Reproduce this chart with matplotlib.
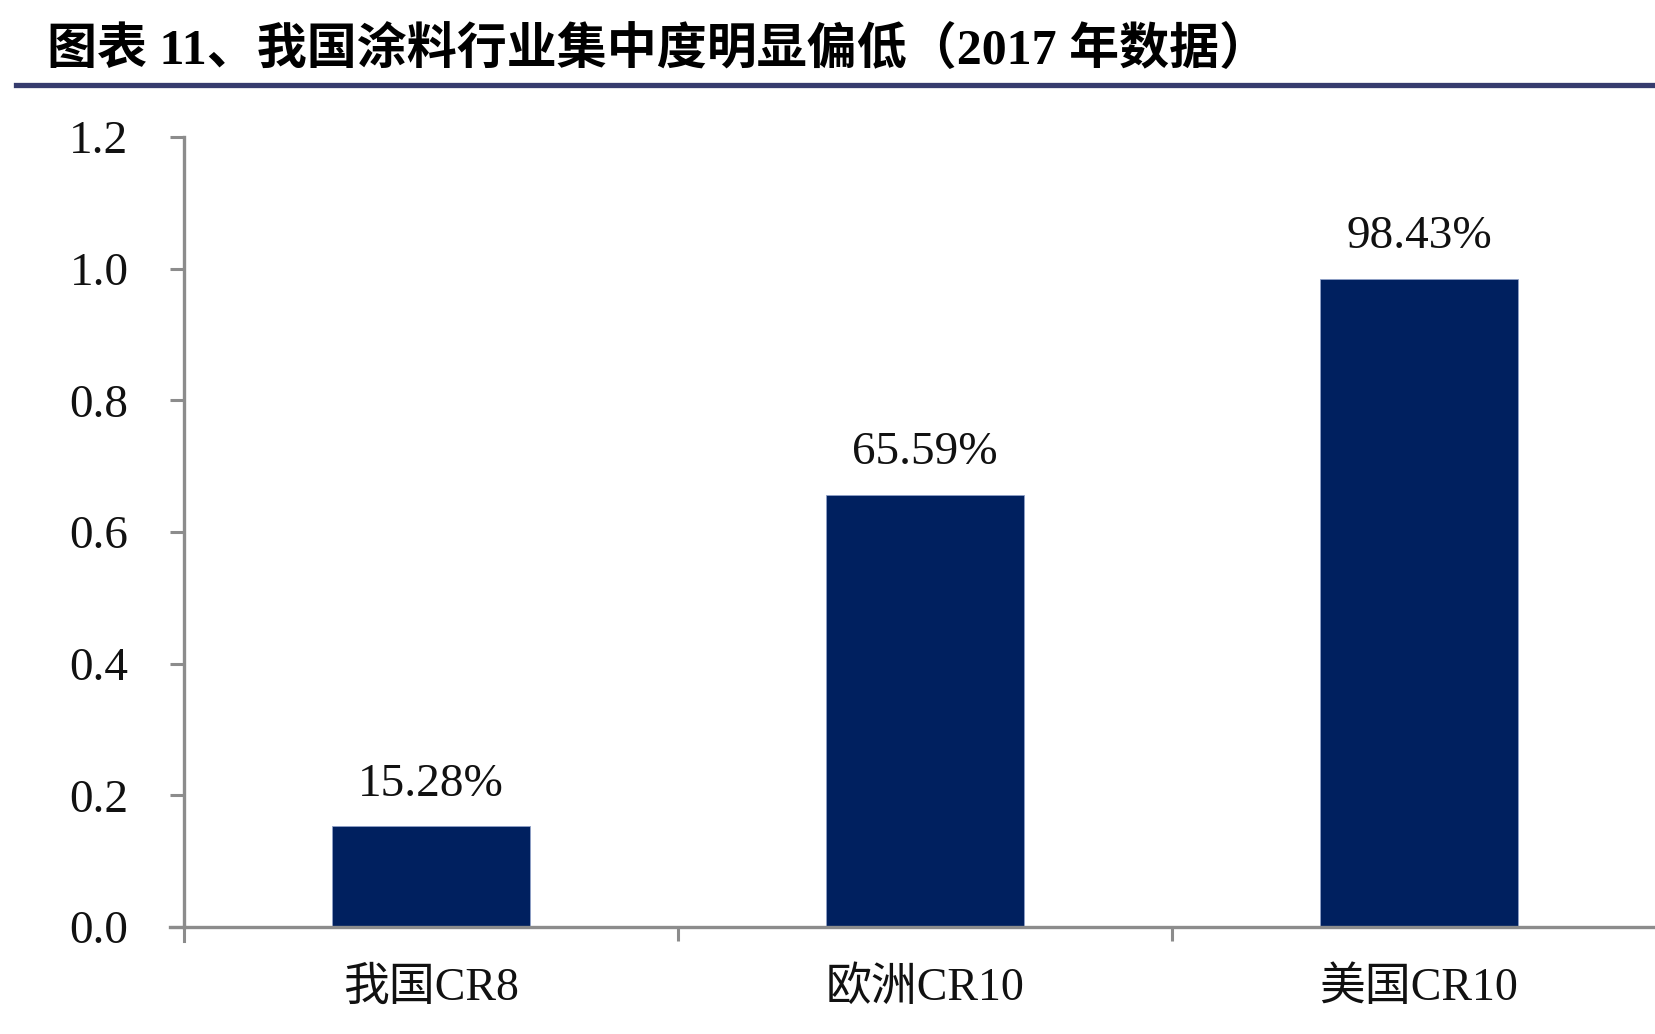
import matplotlib
matplotlib.use("Agg")
import matplotlib.pyplot as plt
from matplotlib.lines import Line2D

categories = ["我国CR8", "欧洲CR10", "美国CR10"]
values = [0.1528, 0.6559, 0.9843]
labels = ["15.28%", "65.59%", "98.43%"]
yticks = [0.0, 0.2, 0.4, 0.6, 0.8, 1.0, 1.2]
title = "图表 11、我国涂料行业集中度明显偏低（2017 年数据）"

FAM = ["Liberation Serif", "Noto Sans CJK SC", "DejaVu Sans"]
plt.rcParams["font.family"] = FAM

W, H = 1656, 1034
fig = plt.figure(figsize=(W / 100, H / 100), dpi=100)

ax = fig.add_axes([184 / W, 1 - 927 / H, 1 - 184 / W, (927 - 137) / H])
x = list(range(len(categories)))
ax.bar(x, values, width=0.40, color="#00205f", edgecolor="#8fa0c8", linewidth=0.6, zorder=2)
for xi, v, lab in zip(x, values, labels):
    ax.annotate(lab, (xi, v), xytext=(0, 15), textcoords="offset points",
                ha="center", va="bottom", fontsize=34, color="#111111")

ax.set_xlim(-0.5, 2.48)
ax.set_ylim(0, 1.2)
ax.set_yticks(yticks)
ax.set_yticklabels([f"{t:.1f}" for t in yticks], fontsize=34, color="#111111")
ax.set_xticks([0.5, 1.5])
ax.set_xticklabels([])
ax.set_xticks(x, minor=True)
ax.set_xticklabels(categories, minor=True, fontsize=33, color="#111111")

for s in ["top", "right"]:
    ax.spines[s].set_visible(False)
for s in ["left", "bottom"]:
    ax.spines[s].set_color("#8c8c8c")
    ax.spines[s].set_linewidth(2.4)

ax.tick_params(axis="y", which="major", length=10, width=2.2, color="#8c8c8c", pad=30)
ax.tick_params(axis="x", which="major", length=10, width=2.2, color="#8c8c8c")
ax.tick_params(axis="x", which="minor", length=0, pad=29)

fig.add_artist(Line2D([170 / W, 184 / W], [1 - 927 / H, 1 - 927 / H],
                      color="#8c8c8c", linewidth=2.4, transform=fig.transFigure))
fig.add_artist(Line2D([184 / W, 184 / W], [1 - 927 / H, 1 - 941 / H],
                      color="#8c8c8c", linewidth=2.2, transform=fig.transFigure))

fig.text(47 / W, 1 - 51 / H, title, fontsize=36, fontweight="bold",
         ha="left", va="center", color="#000000", family=FAM)
fig.add_artist(Line2D([16 / W, 1.0], [1 - 84.5 / H, 1 - 84.5 / H],
                      color="#363c6e", linewidth=3.8, transform=fig.transFigure))

fig.savefig("out.png", dpi=100)
